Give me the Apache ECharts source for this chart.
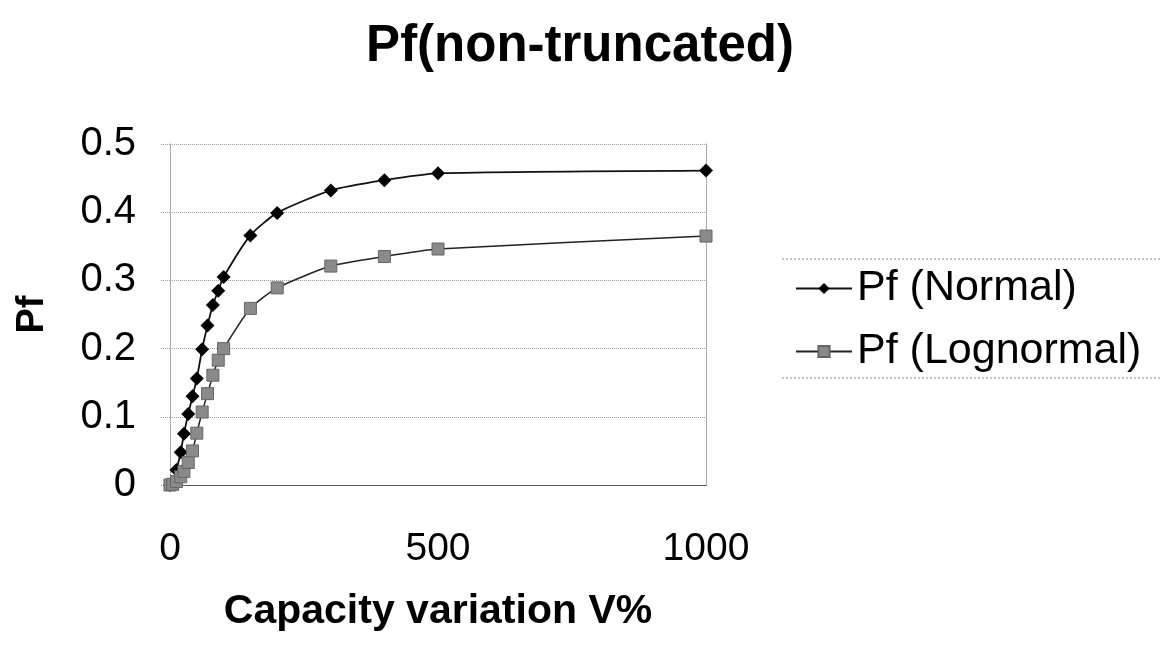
<!DOCTYPE html>
<html>
<head>
<meta charset="utf-8">
<script src="https://cdn.jsdelivr.net/npm/echarts@6/dist/echarts.min.js"></script>
<style>html,body{margin:0;padding:0;background:#fff}#c{width:1160px;height:649px}</style>
</head>
<body>
<div id="c"></div>
<script>
const capacityV = [0, 5, 12, 20, 26, 34, 42, 50, 60, 70, 80, 90, 100, 150, 200, 300, 400, 500, 1000];
const pfNormal = [0, 0.003, 0.022, 0.048, 0.075, 0.104, 0.13, 0.156, 0.199, 0.234, 0.264, 0.285, 0.305, 0.366, 0.399, 0.432, 0.447, 0.457, 0.461];
const pfLognormal = [0, 0.001, 0.005, 0.012, 0.02, 0.033, 0.05, 0.076, 0.107, 0.134, 0.161, 0.183, 0.2, 0.259, 0.289, 0.321, 0.335, 0.346, 0.365];
const yTicks = [0, 0.1, 0.2, 0.3, 0.4, 0.5];
const xTicks = [0, 500, 1000];
const seriesNames = ['Pf (Normal)', 'Pf (Lognormal)'];
const titleText = 'Pf(non-truncated)';
const xName = 'Capacity variation V%';
const yName = 'Pf';

const pairs = (ys) => capacityV.map((x, i) => [x, ys[i]]);
const FONT = '"Liberation Sans", Arial, sans-serif';

const chart = echarts.init(document.getElementById('c'));
chart.setOption({
  animation: false,
  backgroundColor: '#fff',
  textStyle: { fontFamily: FONT },
  title: {
    text: titleText, left: 'center', top: 16,
    textStyle: { fontFamily: FONT, fontSize: 51, fontWeight: 'bold', color: '#000' }
  },
  grid: { left: 170, right: 1160 - 706, top: 144, bottom: 649 - 485, containLabel: false, outerBoundsMode: 'none' },
  legend: {
    orient: 'vertical', left: 790, top: 262, itemGap: 20,
    itemWidth: 56, itemHeight: 14,
    textStyle: { fontFamily: FONT, fontSize: 43, color: '#000' },
    data: seriesNames
  },
  graphic: [
    { type: 'line', shape: { x1: 782, y1: 259, x2: 1160, y2: 259 }, style: { stroke: '#888', lineWidth: 1, lineDash: [2, 2] } },
    { type: 'line', shape: { x1: 782, y1: 378, x2: 1160, y2: 378 }, style: { stroke: '#888', lineWidth: 1, lineDash: [2, 2] } }
  ],
  xAxis: {
    type: 'value', min: 0, max: 1000, interval: 500,
    name: xName, nameLocation: 'middle', nameGap: 106,
    nameTextStyle: { fontFamily: FONT, fontSize: 41, fontWeight: 'bold', color: '#000' },
    axisLine: { show: true, lineStyle: { color: '#555', width: 1 } },
    axisTick: { show: false },
    splitLine: { show: false },
    axisLabel: { margin: 45, fontSize: 39, color: '#000', fontFamily: FONT,
      formatter: (v) => xTicks.includes(v) ? String(v) : '' }
  },
  yAxis: [{
    type: 'value', min: 0, max: 0.5, interval: 0.1,
    name: yName, nameLocation: 'middle', nameGap: 118, nameRotate: 90,
    nameTextStyle: { fontFamily: FONT, fontSize: 38, fontWeight: 'bold', color: '#000' },
    axisLine: { show: true, lineStyle: { color: '#999', width: 1, type: 'dotted' } },
    axisTick: { show: true, inside: false, length: 10, lineStyle: { color: '#999', type: 'dotted' } },
    splitLine: { show: true, lineStyle: { color: '#999', width: 1, type: 'dotted' } },
    axisLabel: { margin: 34, fontSize: 40, color: '#000', fontFamily: FONT,
      formatter: (v) => { const t = yTicks.find(k => Math.abs(k - v) < 1e-9); return t === undefined ? '' : String(t); } }
  }, {
    type: 'value', min: 0, max: 0.5, interval: 0.1, position: 'right',
    axisLine: { show: true, lineStyle: { color: '#999', width: 1, type: 'dotted' } },
    axisTick: { show: false }, axisLabel: { show: false }, splitLine: { show: false }
  }],
  series: [{
    name: seriesNames[0], type: 'line', data: pairs(pfNormal),
    smooth: 0.2,
    symbol: 'diamond', symbolSize: 14,
    lineStyle: { color: '#111', width: 1.8 },
    itemStyle: { color: '#000' }
  }, {
    name: seriesNames[1], type: 'line', data: pairs(pfLognormal),
    smooth: 0.2,
    symbol: 'rect', symbolSize: 12,
    lineStyle: { color: '#222', width: 1.5 },
    itemStyle: { color: '#8a8a8a', borderColor: '#666', borderWidth: 1 }
  }]
});
</script>
</body>
</html>
